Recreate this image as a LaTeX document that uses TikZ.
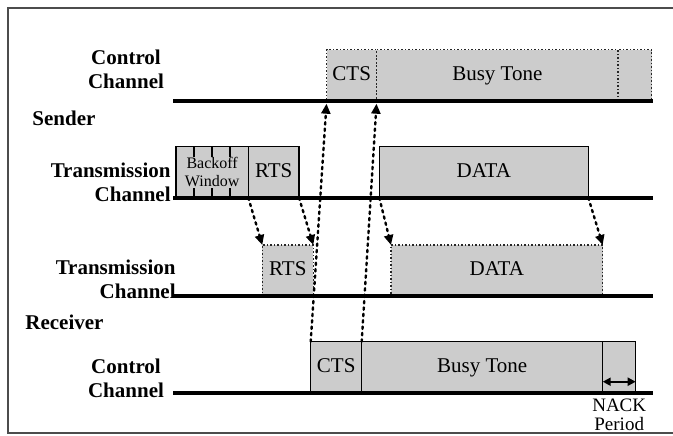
\documentclass[tikz,border=0pt]{standalone}
\usepackage{fontspec}
\setmainfont{Liberation Serif}
\usetikzlibrary{arrows.meta,calc,positioning}

\begin{document}
\begin{tikzpicture}[x=0.5pt, y=-0.5pt,
    chanLabel/.style={font=\fontsize{10.5}{12}\selectfont\bfseries, align=center, inner sep=0pt},
    sideLabel/.style={font=\fontsize{10.5}{12}\selectfont\bfseries, inner sep=0pt, anchor=west},
    slotBase/.style={draw=black, line width=0.75pt, fill=black!20, minimum height=25.5pt, inner sep=0pt, outer sep=0pt, anchor=south west, align=center},
    slot/.style={slotBase, font=\fontsize{10.5}{12}\selectfont, text height=7.2pt, text depth=2.3pt},
    ghostSlot/.style={slot, draw=black!85, densely dotted, line width=0.6pt},
    chanLine/.style={line width=2pt},
    signalArrow/.style={dotted, line width=1.2pt, line cap=round, -{Triangle[length=5pt, width=4.5pt]}},
    >=Latex
  ]
  \useasboundingbox (0,0) rectangle (673,435);
  \draw[black!70, line width=1pt] (673,8) -- (8,8) -- (8,433) -- (673,433);

  \node[chanLabel] (sCtrlLbl) at (126,69.5) {Control\\Channel};
  \node[sideLabel] (senderLbl) at (32,118) {Sender};
  \node[chanLabel, align=right, anchor=east] (sTransLbl) at (171,182.4) {Transmission\\Channel};
  \node[chanLabel, align=right, anchor=east] (rTransLbl) at (176,279) {Transmission\\Channel};
  \node[sideLabel] (receiverLbl) at (25,322.7) {Receiver};
  \node[chanLabel] (rCtrlLbl) at (126,378.3) {Control\\Channel};

  % sender, control channel
  \node[ghostSlot, minimum width=25pt] (sCTS) at (326.7,100.7) {CTS};
  \node[ghostSlot, minimum width=120.65pt] (sBusy) at (sCTS.south east) {Busy Tone};
  \node[ghostSlot, minimum width=16.85pt] (sNack) at (sBusy.south east) {};

  % sender, transmission channel
  \node[slotBase, minimum width=36.15pt, font=\fontsize{8}{9}\selectfont] (sBackoff) at (176,197.7) {Backoff\\Window};
  \node[slot, minimum width=25.35pt] (sRTS) at (sBackoff.south east) {RTS};
  \node[slot, minimum width=104.5pt] (sData) at (379.3,197.7) {DATA};
  \foreach \k in {1,2,3} {
    \draw[line width=0.75pt] ($(sBackoff.north west)!\k/4!(sBackoff.north east)$) -- ++(0,10);
    \draw[line width=0.75pt] ($(sBackoff.south west)!\k/4!(sBackoff.south east)$) -- ++(0,-10);
  }

  % receiver, transmission channel
  \node[ghostSlot, minimum width=25.5pt] (rRTS) at (262.3,296) {RTS};
  \node[ghostSlot, minimum width=105.85pt] (rData) at (391,296) {DATA};

  % receiver, control channel
  \node[slot, minimum width=25.5pt] (rCTS) at (310.7,392.7) {CTS};
  \node[slot, minimum width=120.5pt] (rBusy) at (rCTS.south east) {Busy Tone};
  \node[slot, minimum width=16.5pt] (rNack) at (rBusy.south east) {};
  \node[font=\fontsize{9.5}{9.5}\selectfont, align=center, inner sep=0pt, below=3pt of rNack] (nackLbl) {NACK\\Period};

  \draw[chanLine] (173,100.7) -- (653,100.7);
  \draw[chanLine] (173,197.7) -- (653,197.7);
  \draw[chanLine] (173,296) -- (653,296);
  \draw[chanLine] (173,392.7) -- (653,392.7);

  \draw[signalArrow] (sBackoff.south east) -- (rRTS.north west);
  \draw[signalArrow] (sRTS.south east) -- (rRTS.north east);
  \draw[signalArrow, shorten >=1.5pt] (rCTS.north west) -- (sCTS.south west);
  \draw[signalArrow, shorten >=1.5pt] (rBusy.north west) -- (sBusy.south west);
  \draw[signalArrow] (sData.south west) -- (rData.north west);
  \draw[signalArrow] (sData.south east) -- (rData.north east);
  \draw[{Triangle[length=4pt, width=4pt]}-{Triangle[length=4pt, width=4pt]}, line width=1pt]
    ([yshift=5.5pt]rNack.south west) -- ([yshift=5.5pt]rNack.south east);
\end{tikzpicture}
\end{document}
